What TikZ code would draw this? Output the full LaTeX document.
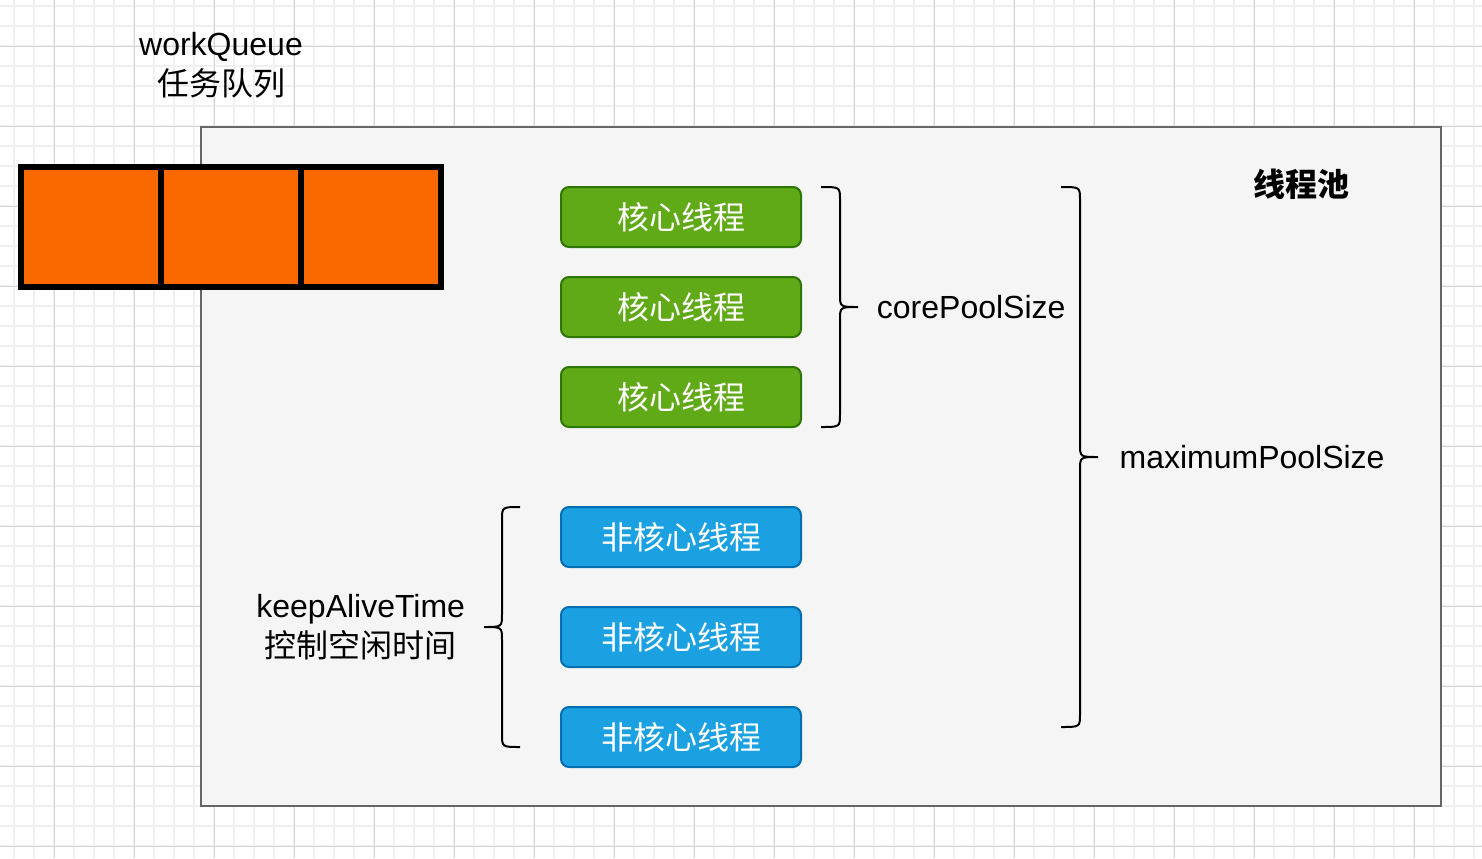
\documentclass[tikz,border=0pt]{standalone}
\usepackage{fontspec}
\setmainfont{Liberation Sans}
\newfontfamily\cjk{Noto Sans CJK SC}
\usetikzlibrary{positioning,calc}
\definecolor{poolfill}{HTML}{F5F5F5}
\definecolor{pooledge}{HTML}{666666}
\definecolor{queuefill}{HTML}{FA6800}
\definecolor{corefill}{HTML}{60A917}
\definecolor{coreedge}{HTML}{2D7600}
\definecolor{extrafill}{HTML}{1BA1E2}
\definecolor{extraedge}{HTML}{006EAF}
\definecolor{minorgrid}{HTML}{F0F0F0}
\definecolor{majorgrid}{HTML}{D4D4D4}
\tikzset{%
	pool/.style     = {draw=pooledge, fill=poolfill, line width=1.5pt, minimum width=930pt, minimum height=509.25pt}, % thread pool
	slot/.style     = {draw=black, fill=queuefill, line width=4.5pt, outer sep=0pt, minimum width=105pt, minimum height=90pt}, % queue cell
	core/.style     = {draw=coreedge, fill=corefill, line width=1.5pt, rounded corners=6pt, outer sep=0pt, minimum width=180pt, minimum height=45pt, text=white, font=\cjk\fontsize{24}{30}\selectfont},
	extra/.style    = {core, draw=extraedge, fill=extrafill},
	note/.style     = {inner sep=0pt, align=center, font=\fontsize{24}{30}\selectfont},
	brace/.style    = {draw, line width=1.5pt},
	minorline/.style = {draw=minorgrid, line width=1.1pt},
	majorline/.style = {draw=majorgrid, line width=0.75pt},
}
\begin{document}
\begin{tikzpicture}[x=0.75pt, y=-0.75pt]
	\useasboundingbox (0,0) rectangle (1482,858);
	% background grid
	\foreach \gx in {14,34,...,1474} \draw[minorline] (\gx,0) -- (\gx,858);
	\foreach \gy in {6,26,...,846} \draw[minorline] (0,\gy) -- (1482,\gy);
	\foreach \gx in {54,134,...,1414} \draw[majorline] (\gx,0) -- (\gx,858);
	\foreach \gy in {46,126,...,846} \draw[majorline] (0,\gy) -- (1482,\gy);
	
	\node[pool] (pool) at (821,466.5) {};
	\node[note, font=\cjk\bfseries\fontsize{24}{30}\selectfont] (title) at (1301,184) {线程池};
	
	\node[note] (wq) at (221,65) {workQueue\\{\cjk 任务队列}};
	\node[slot] (q1) at (91,227) {};
	\node[slot,right=0pt of q1] (q2) {};
	\node[slot,right=0pt of q2] (q3) {};
	
	\node[core] (c1) at (681,217) {核心线程};
	\node[core,below=22.5pt of c1] (c2) {核心线程};
	\node[core,below=22.5pt of c2] (c3) {核心线程};
	\node[extra,below=60pt of c3] (e1) {非核心线程};
	\node[extra,below=30pt of e1] (e2) {非核心线程};
	\node[extra,below=30pt of e2] (e3) {非核心线程};
	
	% braces
	\draw[brace] (821,187) .. controls (840,187) .. (840,200) -- (840,294) .. controls (840,307) .. (858,307) coordinate (coreTip)
		.. controls (840,307) .. (840,320) -- (840,414) .. controls (840,427) .. (821,427);
	\draw[brace] (1061,187) .. controls (1080,187) .. (1080,200) -- (1080,444) .. controls (1080,457) .. (1098,457) coordinate (maxTip)
		.. controls (1080,457) .. (1080,470) -- (1080,714) .. controls (1080,727) .. (1061,727);
	\draw[brace] (520,507) .. controls (502,507) .. (502,520) -- (502,614) .. controls (502,627) .. (484,627) coordinate (keepTip)
		.. controls (502,627) .. (502,640) -- (502,734) .. controls (502,747) .. (520,747);
	
	\node[note,right=14pt of coreTip] (coreLbl) {corePoolSize};
	\node[note,right=16pt of maxTip] (maxLbl) {maximumPoolSize};
	\node[note,left=14pt of keepTip] (keepLbl) {keepAliveTime\\{\cjk 控制空闲时间}};
\end{tikzpicture}
\end{document}
